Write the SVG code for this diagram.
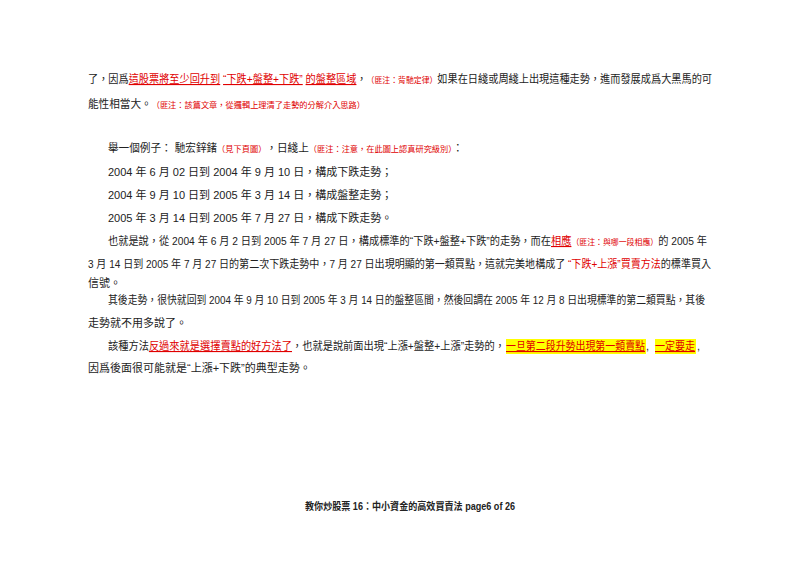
<svg xmlns="http://www.w3.org/2000/svg" width="800" height="566" viewBox="0 0 800 566">
<style>
text{font-family:"Liberation Sans","Noto Sans CJK TC",sans-serif;font-size:11px;fill:#222}
.r{fill:#e00000}
.s{font-size:8.5px;fill:#e00000}
.u{text-decoration:underline}
.b{font-weight:bold}
</style>
<rect width="800" height="566" fill="#fff"/>
<g id="page">
<rect x="506" y="339" width="140" height="15" fill="#ffff00"/>
<rect x="655" y="339" width="41" height="15" fill="#ffff00"/>
<text x="88" y="83" textLength="624" lengthAdjust="spacingAndGlyphs">了，因爲<tspan class="r u">這股票將至少回升到</tspan> <tspan class="r u">“下跌+盤整+下跌”</tspan> <tspan class="r u">的盤整區域</tspan>，<tspan class="s">（匪注：背馳定律）</tspan>如果在日綫或周綫上出現這種走勢，進而發展成爲大黑馬的可</text>
<text x="88" y="108" textLength="277" lengthAdjust="spacingAndGlyphs">能性相當大。<tspan class="s">（匪注：該篇文章，從邏輯上理清了走勢的分解介入思路）</tspan></text>
<text x="108" y="152" textLength="355" lengthAdjust="spacingAndGlyphs">舉一個例子：  馳宏鋅鍺<tspan class="s">（見下頁圖）</tspan>，日綫上<tspan class="s">（匪注：注意，在此圖上認真研究級別）</tspan>：</text>
<text x="108" y="176">2004 年 6 月 02 日到 2004 年 9 月 10 日，構成下跌走勢；</text>
<text x="108" y="199">2004 年 9 月 10 日到 2005 年 3 月 14 日，構成盤整走勢；</text>
<text x="108" y="222">2005 年 3 月 14 日到 2005 年 7 月 27 日，構成下跌走勢。</text>
<text x="108" y="245" textLength="599" lengthAdjust="spacingAndGlyphs">也就是說，從 2004 年 6 月 2 日到 2005 年 7 月 27 日，構成標準的“下跌+盤整+下跌”的走勢，而在<tspan class="r u">相應</tspan><tspan class="s">（匪注：與哪一段相應）</tspan>的 2005 年</text>
<text x="88" y="268" textLength="623" lengthAdjust="spacingAndGlyphs">3 月 14 日到 2005 年 7 月 27 日的第二次下跌走勢中，7 月 27 日出現明顯的第一類買點，這就完美地構成了 <tspan class="r">“下跌+上漲”買賣方法</tspan>的標準買入</text>
<text x="88" y="287">信號。</text>
<text x="108" y="304" textLength="597" lengthAdjust="spacingAndGlyphs">其後走勢，很快就回到 2004 年 9 月 10 日到 2005 年 3 月 14 日的盤整區間，然後回調在 2005 年 12 月 8 日出現標準的第二類買點，其後</text>
<text x="88" y="327">走勢就不用多說了。</text>
<text x="108" y="350" textLength="397" lengthAdjust="spacingAndGlyphs">該種方法<tspan class="r u">反過來就是選擇賣點的好方法了</tspan>，也就是說前面出現“上漲+盤整+上漲”走勢的，</text>
<text x="506" y="350" textLength="139" lengthAdjust="spacingAndGlyphs" class="r u">一旦第二段升勢出現第一類賣點</text>
<text x="646" y="350">,</text>
<text x="655" y="350" textLength="40" lengthAdjust="spacingAndGlyphs" class="r u">一定要走</text>
<text x="697" y="350">,</text>
<text x="88" y="372">因爲後面很可能就是“上漲+下跌”的典型走勢。</text>
<text x="305" y="510" textLength="210" lengthAdjust="spacingAndGlyphs" style="font-size:10px" class="b">教你炒股票 16：中小資金的高效買賣法      page6 of 26</text>
</g>
</svg>
